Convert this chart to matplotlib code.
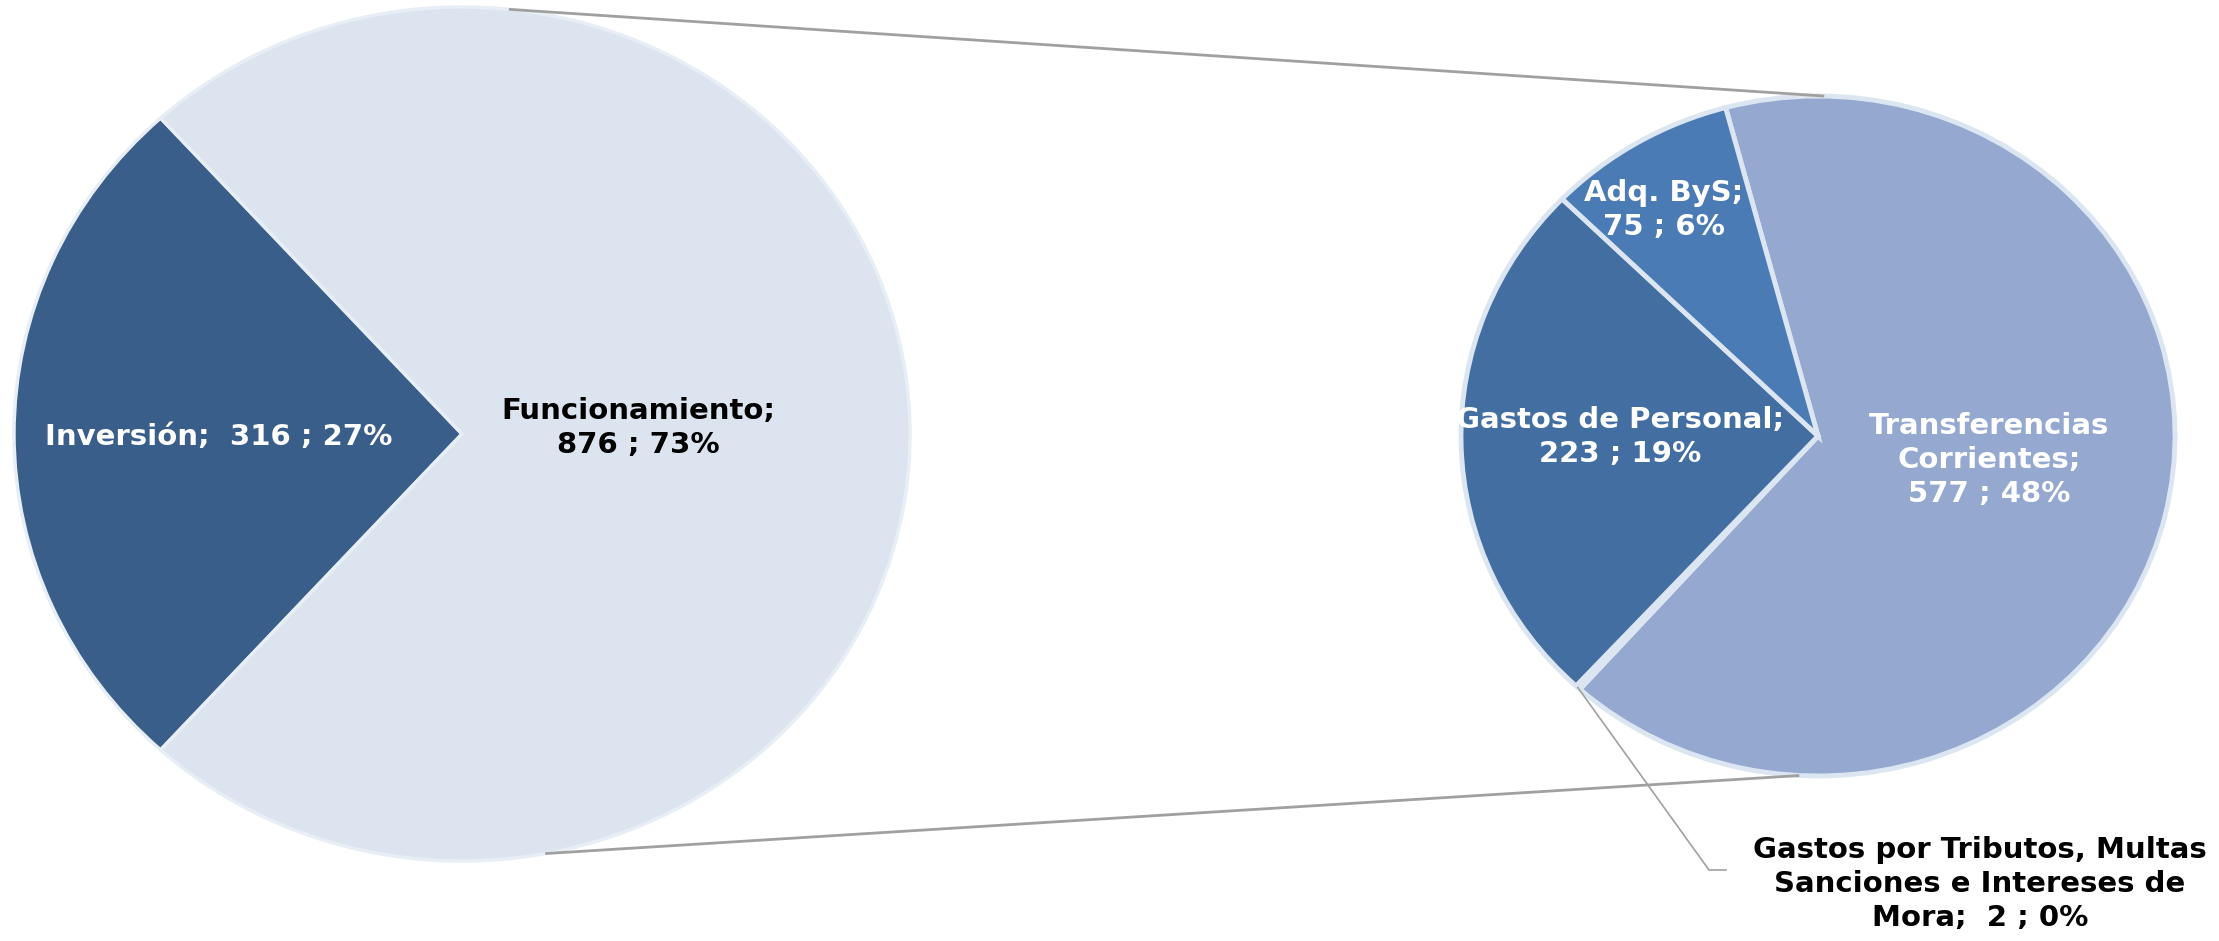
import numpy as np
import matplotlib
matplotlib.use("Agg")
import matplotlib.pyplot as plt

# ---------------- data ----------------
main_names = ["Inversión", "Funcionamiento"]
main_values = [316, 876]
main_colors = ["#3A5E8A", "#DCE4F0"]

sub_names = ["Transferencias\nCorrientes", "Gastos por Tributos, Multas\nSanciones e Intereses de\nMora",
             "Gastos de Personal", "Adq. ByS"]
sub_values = [577, 2, 223, 75]
sub_colors = ["#95A9D0", "#5B88C0", "#436EA1", "#4A7BB5"]

grand_total = sum(main_values)

# ---------------- layout ----------------
W, H = 2219, 941
fig = plt.figure(figsize=(W / 100, H / 100), dpi=100)
plt.rcParams['font.family'] = ['DejaVu Sans']


def rect(cx, cy, rx, ry):
    return [(cx - rx) / W, (H - cy - ry) / H, 2 * rx / W, 2 * ry / H]


def lab(name, v, sep):
    return f"{name}{sep}{v} ; {round(v / grand_total * 100)}%"


# left pie
axL = fig.add_axes(rect(462, 434, 448, 427))
inv_span = 360 * main_values[0] / grand_total
wL, _ = axL.pie(main_values, colors=main_colors, startangle=180 - inv_span / 2,
                counterclock=True, radius=1,
                wedgeprops=dict(edgecolor="#E8EEF6", linewidth=2.5))
axL.set_aspect('auto'); axL.set_xlim(-1, 1); axL.set_ylim(-1, 1)
for w in wL:
    w.set_clip_on(False)

# right pie
axR = fig.add_axes(rect(1818, 436, 357, 340))
wR, _ = axR.pie(sub_values, colors=sub_colors, startangle=105, counterclock=False,
                radius=1, wedgeprops=dict(edgecolor="#DCE6F2", linewidth=3.5))
axR.set_aspect('auto'); axR.set_xlim(-1, 1); axR.set_ylim(-1, 1)
for w in wR:
    w.set_clip_on(False)

# overlay in pixel coordinates (y from top)
axO = fig.add_axes([0, 0, 1, 1])
axO.set_xlim(0, W); axO.set_ylim(H, 0); axO.axis('off')
axO.patch.set_alpha(0)


def to_px(ax, ang):
    a = np.deg2rad(ang)
    dx, dy = ax.transData.transform((np.cos(a), np.sin(a)))
    return dx, H - dy


# connector lines between pies
p1 = to_px(axL, 84); p2 = to_px(axR, 89)
p3 = to_px(axL, -79.3); p4 = to_px(axR, -93)
for a, b in [(p1, p2), (p3, p4)]:
    axO.plot([a[0], b[0]], [a[1], b[1]], color="#A0A0A0", lw=2, solid_capstyle='butt', zorder=1)

# leader line for tiny wedge
trib = wR[1]
mid = (trib.theta1 + trib.theta2) / 2
ls = to_px(axR, mid)
axO.plot([ls[0], 1709, 1726], [ls[1], 870, 870], color="#A0A0A0", lw=1.2, zorder=1)

fs = 21
kw = dict(fontsize=fs, fontweight='bold', ha='center', va='center', linespacing=1.27)
axO.text(219, 437, lab(main_names[0], main_values[0], ";  "), color="white", **kw)
axO.text(638, 428, lab(main_names[1], main_values[1], ";\n"), color="black", **kw)
axO.text(1989, 460, lab(sub_names[0], sub_values[0], ";\n"), color="white", **kw)
axO.text(1980, 884, lab(sub_names[1], sub_values[1], ";  "), color="black", **kw)
axO.text(1620, 437, lab(sub_names[2], sub_values[2], ";\n"), color="white", **kw)
axO.text(1664, 210, lab(sub_names[3], sub_values[3], ";\n"), color="white", **kw)

fig.savefig("out.png", dpi=100, facecolor="white")
